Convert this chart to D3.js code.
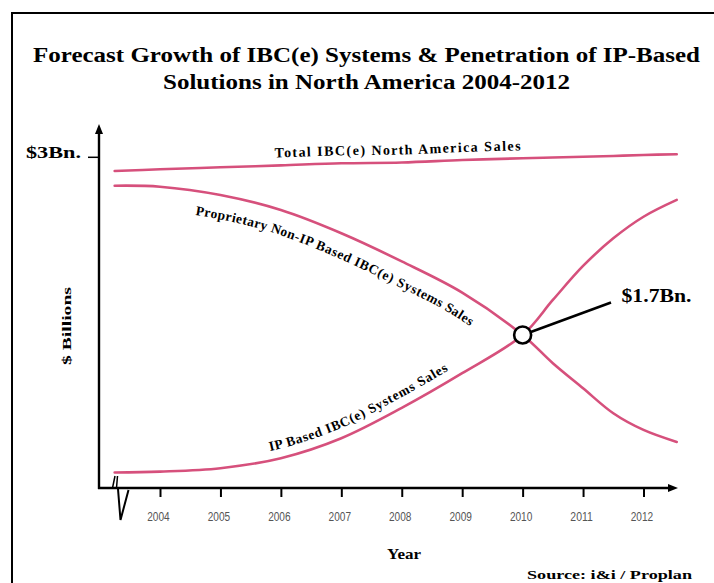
<!DOCTYPE html>
<html>
<head>
<meta charset="utf-8">
<script src="https://cdn.jsdelivr.net/npm/d3@7"></script>
<style>
  html, body { margin: 0; padding: 0; background: #fff; }
  svg { display: block; }
</style>
</head>
<body>
<svg id="chart" width="714" height="583"></svg>
<script>
// Forecast years (first/last points are the curve ends just inside the axes)
const years = [2003.25, 2004, 2005, 2006, 2007, 2008, 2009, 2010, 2010.5, 2011, 2011.5, 2012, 2012.55];
// Sales, $ billions
const totalSales       = [2.900, 2.912, 2.927, 2.941, 2.956, 2.962, 2.980, 2.993, 2.998, 3.004, 3.010, 3.017, 3.022];
const proprietarySales = [2.792, 2.785, 2.724, 2.614, 2.444, 2.238, 2.010, 1.700, 1.493, 1.310, 1.127, 1.005, 0.917];
const ipSales          = [0.693, 0.700, 0.725, 0.798, 0.944, 1.166, 1.420, 1.700, 1.956, 2.205, 2.407, 2.565, 2.688];
const tickYears = [2004, 2005, 2006, 2007, 2008, 2009, 2010, 2011, 2012];
const crossover = { year: 2010, value: 1.7, label: "$1.7Bn." };
const yMarker = { value: 3, label: "$3Bn." };
const axisFloor = 0.58;   // broken axis: value at the x-axis line
const axisTop = 3.243;

const titleLines = [
  "Forecast Growth of IBC(e) Systems & Penetration of IP-Based",
  "Solutions in North America 2004-2012"
];
const seriesLabels = {
  total: "Total IBC(e) North America Sales",
  proprietary: "Proprietary Non-IP Based IBC(e) Systems Sales",
  ip: "IP Based IBC(e) Systems Sales"
};

const svg = d3.select("#chart");
const serif = "'Liberation Serif', 'Times New Roman', serif";
const lineColor = "#d6507c";

const x = d3.scaleLinear().domain([2004, 2012]).range([160, 643.5]);
const y = d3.scaleLinear().domain([axisFloor, 3]).range([488, 157.3]);

// outer frame (runs off the right and bottom edges)
svg.append("rect")
  .attr("x", 12).attr("y", 13).attr("width", 760).attr("height", 640)
  .attr("fill", "none").attr("stroke", "#000").attr("stroke-width", 2);

// title
titleLines.forEach((t, i) => {
  svg.append("text")
    .attr("x", 366.5).attr("y", 62 + i * 27)
    .attr("text-anchor", "middle")
    .attr("font-family", serif).attr("font-weight", "bold").attr("font-size", 20.5)
    .attr("textLength", i === 0 ? 667 : 407).attr("lengthAdjust", "spacingAndGlyphs")
    .text(t);
});

// axes
const x0 = 99, yAxisBottom = y(axisFloor), xEnd = 678, yTopPx = y(axisTop);
svg.append("line").attr("x1", x0).attr("y1", yAxisBottom + 1).attr("x2", x0).attr("y2", yTopPx + 6)
  .attr("stroke", "#000").attr("stroke-width", 2.4);
svg.append("line").attr("x1", x0 - 1).attr("y1", yAxisBottom).attr("x2", xEnd - 6).attr("y2", yAxisBottom)
  .attr("stroke", "#000").attr("stroke-width", 2.4);
svg.append("path")
  .attr("d", `M${x0},${yTopPx} L${x0 - 4},${yTopPx + 10} L${x0 + 4},${yTopPx + 10} Z`).attr("fill", "#000");
svg.append("path")
  .attr("d", `M${xEnd},${yAxisBottom} L${xEnd - 10},${yAxisBottom - 4} L${xEnd - 10},${yAxisBottom + 4} Z`).attr("fill", "#000");

// x ticks and year labels
const xAxis = d3.axisBottom(x).tickValues(tickYears).tickFormat(d3.format("d")).tickSize(9).tickPadding(15);
const gx = svg.append("g").attr("transform", `translate(0,${yAxisBottom})`).call(xAxis);
gx.select(".domain").remove();
gx.selectAll(".tick line").attr("stroke", "#000").attr("stroke-width", 2);
gx.selectAll(".tick text")
  .attr("fill", "#555").attr("font-family", "'Liberation Sans', Arial, sans-serif").attr("font-size", 12.5)
  .attr("dx", -2)
  .attr("textLength", 22.5).attr("lengthAdjust", "spacingAndGlyphs");

// axis break marks near the origin
svg.append("path").attr("d", `M112.5,${yAxisBottom} L115,476 M116.5,${yAxisBottom} L117.5,476`)
  .attr("fill", "none").attr("stroke", "#000").attr("stroke-width", 1.5);
svg.append("path").attr("d", `M118,${yAxisBottom + 1} L120.5,520 L128.5,${yAxisBottom + 2}`)
  .attr("fill", "none").attr("stroke", "#000").attr("stroke-width", 2);

// $3Bn. marker on the y axis
svg.append("line").attr("x1", 88).attr("x2", x0).attr("y1", y(yMarker.value)).attr("y2", y(yMarker.value))
  .attr("stroke", "#000").attr("stroke-width", 1.5);
svg.append("text").attr("x", 26).attr("y", y(yMarker.value) + 0.5)
  .attr("font-family", serif).attr("font-weight", "bold").attr("font-size", 17.5)
  .attr("textLength", 55).attr("lengthAdjust", "spacingAndGlyphs")
  .text(yMarker.label);

// axis titles
svg.append("text")
  .attr("transform", "translate(71,326) rotate(-90)")
  .attr("text-anchor", "middle")
  .attr("font-family", serif).attr("font-weight", "bold").attr("font-size", 13)
  .attr("textLength", 78).attr("lengthAdjust", "spacingAndGlyphs")
  .text("$ Billions");
svg.append("text").attr("x", 404).attr("y", 559).attr("text-anchor", "middle")
  .attr("font-family", serif).attr("font-weight", "bold").attr("font-size", 15)
  .attr("textLength", 34).attr("lengthAdjust", "spacingAndGlyphs")
  .text("Year");
svg.append("text").attr("x", 692).attr("y", 579).attr("text-anchor", "end")
  .attr("font-family", serif).attr("font-weight", "bold").attr("font-size", 13.5)
  .attr("textLength", 165).attr("lengthAdjust", "spacingAndGlyphs")
  .text("Source: i&i / Proplan");

// series lines
const line = d3.line().x((d, i) => x(years[i])).y(d => y(d)).curve(d3.curveCatmullRom.alpha(0.5));
const series = [
  { id: "total", values: totalSales },
  { id: "proprietary", values: proprietarySales },
  { id: "ip", values: ipSales }
];
const paths = {};
series.forEach(s => {
  paths[s.id] = svg.append("path")
    .attr("id", "line-" + s.id)
    .attr("d", line(s.values))
    .attr("fill", "none").attr("stroke", lineColor).attr("stroke-width", 2.6)
    .attr("stroke-linecap", "round")
    .node();
});

// arc length along a path where it reaches a given x
function lengthAtX(node, px) {
  let lo = 0, hi = node.getTotalLength();
  for (let k = 0; k < 40; k++) {
    const mid = (lo + hi) / 2;
    if (node.getPointAtLength(mid).x < px) lo = mid; else hi = mid;
  }
  return (lo + hi) / 2;
}

// labels that follow their curve, shifted off the line by dy
const curveLabels = [
  { id: "total", text: seriesLabels.total, from: 275, to: 522, dy: -8, size: 14 },
  { id: "proprietary", text: seriesLabels.proprietary, from: 199, to: 484, dy: 24, size: 13.5 },
  { id: "ip", text: seriesLabels.ip, from: 272, to: 454, dy: -9.5, size: 13.5 }
];
curveLabels.forEach(c => {
  const node = paths[c.id];
  const s0 = lengthAtX(node, c.from), s1 = lengthAtX(node, c.to);
  const t = svg.append("text")
    .attr("font-family", serif).attr("font-weight", "bold").attr("font-size", c.size)
    .attr("fill", "#000");
  t.append("textPath")
    .attr("href", "#line-" + c.id)
    .attr("startOffset", s0)
    .append("tspan")
    .attr("dy", c.dy)
    .text(c.text);
  const natural = t.node().getComputedTextLength();
  const spacing = ((s1 - s0) - natural) / c.text.length;
  t.attr("letter-spacing", spacing);
});

// crossover callout
const cx = x(crossover.year), cy = y(crossover.value);
svg.append("line").attr("x1", cx).attr("y1", cy).attr("x2", 611).attr("y2", 302.5)
  .attr("stroke", "#000").attr("stroke-width", 2.6);
svg.append("circle").attr("cx", cx).attr("cy", cy).attr("r", 8.5)
  .attr("fill", "#fff").attr("stroke", "#000").attr("stroke-width", 2.6);
svg.append("text").attr("x", 621.5).attr("y", 301.5)
  .attr("font-family", serif).attr("font-weight", "bold").attr("font-size", 19.5)
  .attr("textLength", 70).attr("lengthAdjust", "spacingAndGlyphs")
  .text(crossover.label);
</script>
</body>
</html>
